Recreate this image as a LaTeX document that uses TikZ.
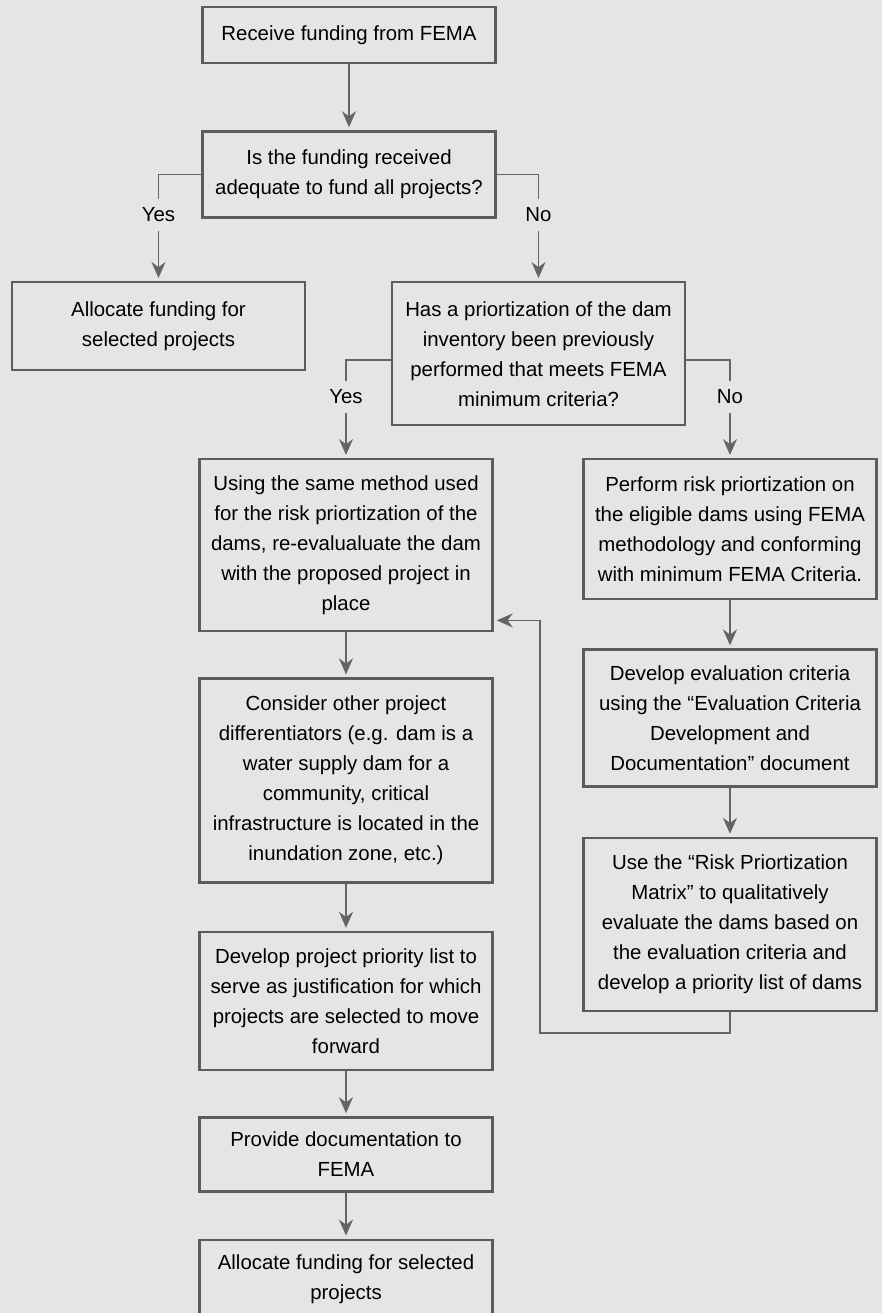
\documentclass[tikz,border=0pt]{standalone}
\usepackage{fontspec}
\setmainfont{Liberation Sans}
\usepackage{xcolor}
\usetikzlibrary{arrows.meta}
\usetikzlibrary{positioning}

\definecolor{bggray}{HTML}{E4E5E7}
\definecolor{linegray}{HTML}{646464}
\definecolor{boxgray}{HTML}{5C5C5C}

\begin{document}
\begin{tikzpicture}[->, shorten >=1.5pt, >={Stealth[length=8pt,width=7pt]},
                line width=0.9pt, draw=linegray,
                box/.style={draw=boxgray, line width=1.2pt, minimum width=146.5pt,
                  align=center, inner sep=3pt, text=black,
                  font=\fontsize{10.2}{15}\selectfont},
                lbl/.style={fill=bggray, inner xsep=2pt, inner ysep=4.5pt, text=black,
                  font=\fontsize{10.2}{15}\selectfont}]

  \fill[bggray] (0,0) rectangle (441pt,-656.5pt);
  \useasboundingbox (0,0) rectangle (441pt,-656.5pt);

  \node[box, minimum height=28pt] (receive) at (174.5pt,-17.5pt) {Receive funding from FEMA};
  \node[box, minimum height=43pt] (adequate) [below=33pt of receive]
    {Is the funding received\\adequate to fund all projects?};
  \node[box, minimum height=44pt, anchor=north] (allocA) at (79.25pt,-140.5pt)
    {Allocate funding for\\selected projects};
  \node[box, minimum height=71.5pt, anchor=north] (prior) at (269.25pt,-140.5pt)
    {Has a priortization of the dam\\inventory been previously\\performed that meets FEMA\\minimum criteria?};

  % left column
  \node[box, minimum height=86pt, anchor=north] (same) at (173pt,-229pt)
    {Using the same method used\\for the risk priortization of the\\dams, re-evalualuate the dam\\with the proposed project in\\place};
  \node[box, minimum height=102pt] (consider) [below=22.5pt of same]
    {Consider other project\\differentiators (e.g. dam is a\\water supply dam for a\\community, critical\\infrastructure is located in the\\inundation zone, etc.)};
  \node[box, minimum height=69pt] (list) [below=23.5pt of consider]
    {Develop project priority list to\\serve as justification for which\\projects are selected to move\\forward};
  \node[box, minimum height=37pt] (docs) [below=22.5pt of list]
    {Provide documentation to\\FEMA};
  \node[box, minimum height=39pt] (allocB) [below=23pt of docs]
    {Allocate funding for selected\\projects};

  % right column
  \node[box, minimum height=70pt, anchor=north] (perform) at (365pt,-229pt)
    {Perform risk priortization on\\the eligible dams using FEMA\\methodology and conforming\\with minimum FEMA Criteria.};
  \node[box, minimum height=68.5pt] (criteria) [below=24pt of perform]
    {Develop evaluation criteria\\using the “Evaluation Criteria\\Development and\\Documentation” document};
  \node[box, minimum height=86.5pt] (matrix) [below=24.5pt of criteria]
    {Use the “Risk Priortization\\Matrix” to qualitatively\\evaluate the dams based on\\the evaluation criteria and\\develop a priority list of dams};

  \coordinate (back) at ([yshift=6pt]same.south east);

  \draw (receive) -- (adequate);
  \draw (adequate.west) -| node[lbl, pos=0.69] {Yes} (allocA.north);
  \draw (adequate.east) -| node[lbl, pos=0.69] {No} (prior.north);
  \draw ([yshift=-3pt]prior.west) -| node[lbl, pos=0.69] {Yes} (same.north);
  \draw ([yshift=-3pt]prior.east) -| node[lbl, pos=0.69] {No} (perform.north);
  \draw (same) -- (consider);
  \draw (consider) -- (list);
  \draw (list) -- (docs);
  \draw (docs) -- (allocB);
  \draw (perform) -- (criteria);
  \draw (criteria) -- (matrix);
  \draw (matrix.south) -- ++(0,-10.5pt) -| ([xshift=23pt]back) -- (back);
\end{tikzpicture}
\end{document}
